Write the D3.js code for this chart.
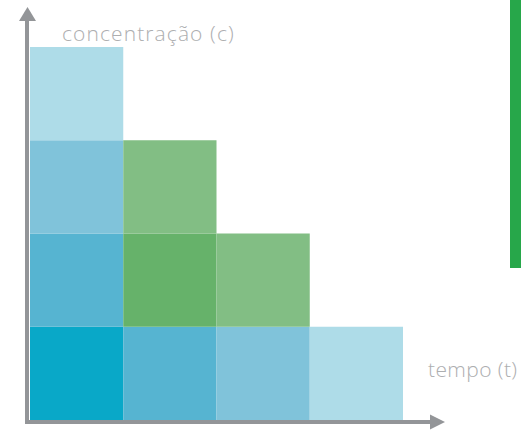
<!DOCTYPE html>
<html><head><meta charset="utf-8">
<script src="https://cdn.jsdelivr.net/npm/d3@7/dist/d3.min.js"></script>
<style>html,body{margin:0;padding:0;background:#fff;overflow:hidden}</style>
</head><body>
<script>
const times = ["t1", "t2", "t3", "t4"];
const levels = [4, 3, 2, 1]; // number of stacked cells per time step
// colour keys per cell, bottom to top
const cellKinds = [
  ["b1", "b2", "b3", "b4"],
  ["b2", "g1", "g2"],
  ["b3", "g2"],
  ["b4"]
];
const palette = {b1: "#09a8c8", b2: "#56b4d1", b3: "#80c3da", b4: "#aedce8", g1: "#66b26a", g2: "#82be84"};
const xLabel = "tempo (t)";
const yLabel = "concentração (c)";

const W = 521, H = 430;
const svg = d3.select("body").append("svg").attr("width", W).attr("height", H);

const x = d3.scaleBand().domain(times).range([30, 403]).paddingInner(0).paddingOuter(0);
const y = d3.scaleLinear().domain([0, 4]).range([420, 47]);

const cells = [];
times.forEach((t, i) => {
  for (let k = 0; k < levels[i]; k++) cells.push({t, k, kind: cellKinds[i][k]});
});

svg.append("g").selectAll("rect").data(cells).join("rect")
  .attr("x", d => x(d.t))
  .attr("width", x.bandwidth())
  .attr("y", d => y(d.k + 1))
  .attr("height", d => y(d.k) - y(d.k + 1))
  .attr("fill", d => palette[d.kind]);

// axes
const axisColor = "#939598";
svg.append("line").attr("x1", 27).attr("x2", 27).attr("y1", 18).attr("y2", 424)
  .attr("stroke", axisColor).attr("stroke-width", 4);
svg.append("path").attr("d", "M19,21 L27.5,7 L36,21 Z").attr("fill", axisColor);
svg.append("line").attr("x1", 25).attr("x2", 432).attr("y1", 422).attr("y2", 422)
  .attr("stroke", axisColor).attr("stroke-width", 4);
svg.append("path").attr("d", "M430,414.5 L445,422 L430,429.5 Z").attr("fill", axisColor);

// green side bar
svg.append("rect").attr("x", 510).attr("y", 0).attr("width", 11).attr("height", 268).attr("fill", "#27a74a");

svg.append("text").attr("x", 62).attr("y", 41).text(yLabel)
  .attr("font-family", "'Open Sans', sans-serif").attr("font-weight", 300)
  .attr("font-size", 21).attr("letter-spacing", 1.1).attr("fill", "#adaeb0");
svg.append("text").attr("x", 428).attr("y", 377).text(xLabel)
  .attr("font-family", "'Open Sans', sans-serif").attr("font-weight", 300)
  .attr("font-size", 21).attr("letter-spacing", 0.4).attr("fill", "#adaeb0");
</script>
</body></html>
